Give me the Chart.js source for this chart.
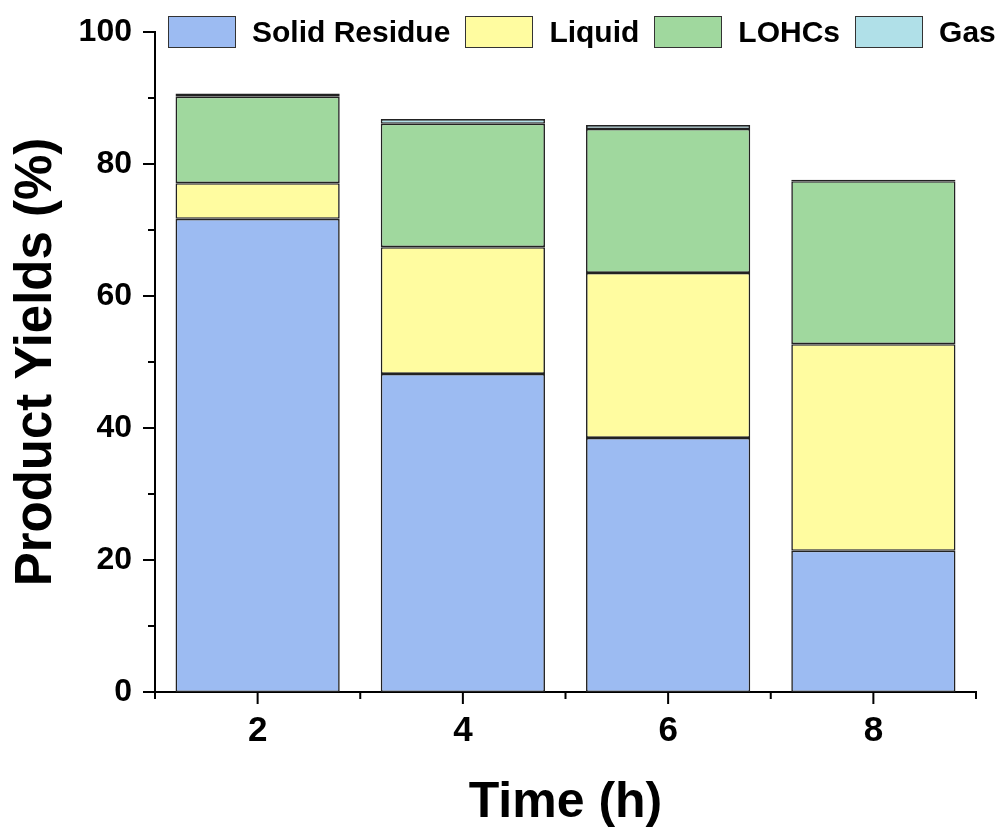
<!DOCTYPE html>
<html>
<head>
<meta charset="utf-8">
<script src="https://cdn.jsdelivr.net/npm/chart.js@4.4.1/dist/chart.umd.min.js"></script>
<style>
    body { margin: 0; background: #fff; }
    #wrap { position: relative; width: 1005px; height: 828px; }
    #legend {
        position: absolute; left: 168px; top: 15px;
        display: flex; align-items: center; white-space: nowrap;
        font: bold 30px "Liberation Sans", Arial, sans-serif; color: #000;
    }
    .item { display: flex; align-items: center; margin-right: 15px; }
    .swatch { width: 66px; height: 30px; border: 1.5px solid #333; margin-right: 16px; }
</style>
</head>
<body>
<div id="wrap">
    <canvas id="yieldChart" width="1005" height="828"></canvas>
    <div id="legend"></div>
</div>
<script>
const times = ['2', '4', '6', '8'];
const solidResidue = [71.7, 48.2, 38.5, 21.4];
const liquid = [5.4, 19.2, 25.0, 31.3];
const lohcs = [13.1, 18.7, 21.8, 24.7];
const gas = [0.5, 0.7, 0.6, 0.2];

const yTicks = [0, 20, 40, 60, 80, 100];

const series = [
    { label: 'Solid Residue', data: solidResidue, color: '#9cbbf2' },
    { label: 'Liquid', data: liquid, color: '#fffca0' },
    { label: 'LOHCs', data: lohcs, color: '#a0d89e' },
    { label: 'Gas', data: gas, color: '#b0e0e8' }
];

const font = '"Liberation Sans", Arial, sans-serif';

// origin-style outward ticks, major + minor
const tickMarks = {
    id: 'tickMarks',
    afterDraw(chart) {
        const { ctx, chartArea, scales: { x, y } } = chart;
        ctx.save();
        ctx.strokeStyle = '#000';
        ctx.lineWidth = 2;
        ctx.beginPath();
        for (let v = 0; v <= 100; v += 10) {
            const py = y.getPixelForValue(v);
            const len = yTicks.includes(v) ? 12 : 7;
            ctx.moveTo(chartArea.left, py);
            ctx.lineTo(chartArea.left - len, py);
        }
        for (let i = -0.5; i <= times.length - 0.5; i += 0.5) {
            const px = x.getPixelForValue(i);
            const len = Number.isInteger(i) ? 12 : 7;
            ctx.moveTo(px, chartArea.bottom);
            ctx.lineTo(px, chartArea.bottom + len);
        }
        ctx.stroke();
        ctx.restore();
    }
};

const ctx = document.getElementById('yieldChart').getContext('2d');
const chart = new Chart(ctx, {
    type: 'bar',
    data: {
        labels: times,
        datasets: series.map(s => ({
            label: s.label,
            data: s.data,
            backgroundColor: s.color,
            borderColor: '#222',
            borderWidth: 1.6,
            borderSkipped: false,
            categoryPercentage: 1,
            barPercentage: 0.8
        }))
    },
    options: {
        responsive: false,
        animation: false,
        layout: { padding: { top: 32, right: 29, left: 0, bottom: 0 } },
        plugins: {
            legend: { display: false },
            tooltip: { enabled: false }
        },
        scales: {
            x: {
                stacked: true,
                grid: { display: false, drawTicks: false },
                border: { display: true, color: '#000', width: 2 },
                ticks: {
                    color: '#000',
                    padding: 18,
                    font: { family: font, size: 35, weight: 'bold' }
                },
                title: {
                    display: true,
                    text: 'Time (h)',
                    color: '#000',
                    padding: { top: 0, bottom: 0 },
                    font: { family: font, size: 50, weight: 'bold', lineHeight: 1 }
                },
                afterFit: scale => {
                    scale.height = 136;
                    scale.paddingLeft = 0;
                    scale.paddingRight = 0;
                }
            },
            y: {
                stacked: true,
                min: 0,
                max: 100,
                grid: { display: false, drawTicks: false },
                border: { display: true, color: '#000', width: 2 },
                ticks: {
                    stepSize: 20,
                    color: '#000',
                    padding: 23,
                    font: { family: font, size: 32, weight: 'bold' }
                },
                title: {
                    display: true,
                    text: 'Product Yields (%)',
                    color: '#000',
                    padding: { top: 6, bottom: 0 },
                    font: { family: font, size: 51, weight: 'bold' }
                },
                afterFit: scale => {
                    scale.width = 155;
                    scale.paddingTop = 0;
                    scale.paddingBottom = 0;
                }
            }
        }
    },
    plugins: [tickMarks]
});

// legend sits on top of the plot like the original figure
const legend = document.getElementById('legend');
series.forEach(s => {
    const item = document.createElement('div');
    item.className = 'item';
    const box = document.createElement('span');
    box.className = 'swatch';
    box.style.background = s.color;
    item.appendChild(box);
    item.appendChild(document.createTextNode(s.label));
    legend.appendChild(item);
});
</script>
</body>
</html>
